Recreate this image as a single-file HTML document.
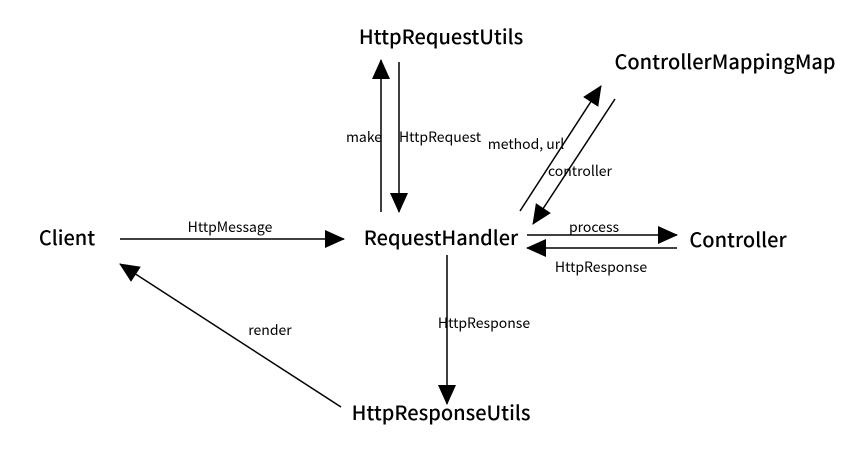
<!DOCTYPE html>
<html><head><meta charset="utf-8"><style>
html,body{margin:0;padding:0;background:#fff;}
svg{display:block;}
.n{font-family:"Noto Sans CJK SC","Liberation Sans",sans-serif;font-size:20px;font-weight:500;fill:#000;text-anchor:middle;}
.l{font-family:"Noto Sans CJK SC","Liberation Sans",sans-serif;font-size:14px;fill:#000;text-anchor:middle;}
line{stroke:#000;stroke-width:1.5;}
</style></head><body>
<svg width="860" height="459" viewBox="0 0 860 459">
<defs>
<marker id="b" markerWidth="20" markerHeight="20" refX="19" refY="10" orient="auto" markerUnits="userSpaceOnUse" viewBox="0 0 20 20"><path d="M0,1 L20,10 L0,19 Z" fill="#000"/></marker></defs>
<text class="n" x="441" y="44">HttpRequestUtils</text>
<text class="n" x="725" y="69">ControllerMappingMap</text>
<text class="n" x="67" y="245">Client</text>
<text class="n" x="441" y="245">RequestHandler</text>
<text class="n" x="738" y="247">Controller</text>
<text class="n" x="441" y="420">HttpResponseUtils</text>
<line x1="381" y1="212" x2="381" y2="60" marker-end="url(#b)"/>
<line x1="399" y1="62" x2="399" y2="212" marker-end="url(#b)"/>
<line x1="520" y1="211" x2="601" y2="86" marker-end="url(#b)"/>
<line x1="615" y1="99" x2="533" y2="224" marker-end="url(#b)"/>
<line x1="120" y1="239" x2="344" y2="239" marker-end="url(#b)"/>
<line x1="527" y1="235" x2="677" y2="235" marker-end="url(#b)"/>
<line x1="677" y1="248" x2="527" y2="248" marker-end="url(#b)"/>
<line x1="447" y1="255" x2="447" y2="404" marker-end="url(#b)"/>
<line x1="341" y1="407" x2="120" y2="264" marker-end="url(#b)"/>
<text class="l" x="364" y="142">make</text>
<text class="l" x="440" y="142">HttpRequest</text>
<text class="l" x="526" y="149">method, url</text>
<text class="l" x="580" y="176">controller</text>
<text class="l" x="230" y="232">HttpMessage</text>
<text class="l" x="594" y="232">process</text>
<text class="l" x="601" y="272">HttpResponse</text>
<text class="l" x="484" y="328">HttpResponse</text>
<text class="l" x="270" y="335">render</text>
</svg>
</body></html>
